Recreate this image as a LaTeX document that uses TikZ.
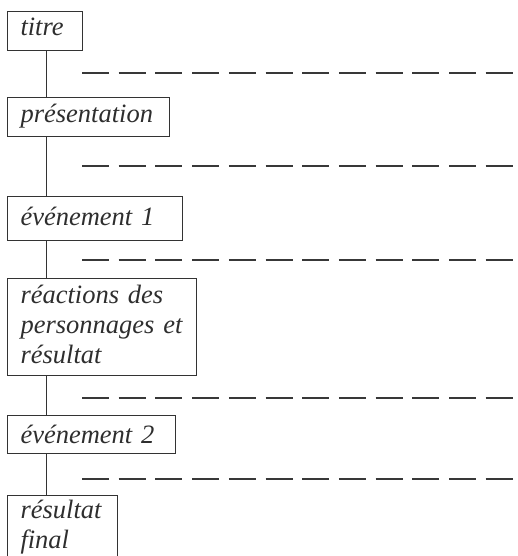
\documentclass[tikz,border=0pt]{standalone}
\usepackage{fontspec}
\setmainfont{Liberation Serif}[ItalicFont={Liberation Serif Italic}]
\begin{document}
\begin{tikzpicture}[x=1pt,y=-1pt]
\tikzset{
  box/.style={draw=black!80, line width=1pt, anchor=north west, inner xsep=13pt, inner ysep=0pt,
    align=left, font=\fontsize{26.5}{30}\selectfont\itshape, text=black!82},
  conn/.style={draw=black!80, line width=1pt},
  sepline/.style={draw=black!78, line width=2.6pt, dash pattern=on 27pt off 9.7pt},
}
\useasboundingbox (0,0) rectangle (517,556);

\node[box, text width=49pt,  text height=24pt, text depth=15pt] (b1) at (7,11)  {titre};
\node[box, text width=136pt, text height=25pt, text depth=14pt] (b2) at (7,97)  {présentation};
\node[box, text width=149pt, text height=29pt, text depth=15pt] (b3) at (7,196) {événement 1};
\node[box, text width=163pt, text height=25pt, text depth=72pt] (b4) at (7,278) {réactions des\\personnages et\\résultat};
\node[box, text width=142pt, text height=28pt, text depth=10pt] (b5) at (7,415) {événement 2};
\node[box, text width=84pt,  text height=23pt, text depth=82pt] (b6) at (7,495) {résultat\\final};

\draw[conn] ([xshift=39.5pt]b1.south west) -- ([xshift=39.5pt]b2.north west);
\draw[conn] ([xshift=39.5pt]b2.south west) -- ([xshift=39.5pt]b3.north west);
\draw[conn] ([xshift=39.5pt]b3.south west) -- ([xshift=39.5pt]b4.north west);
\draw[conn] ([xshift=39.5pt]b4.south west) -- ([xshift=39.5pt]b5.north west);
\draw[conn] ([xshift=39.5pt]b5.south west) -- ([xshift=39.5pt]b6.north west);

\coordinate (d1s) at (82,73);  \coordinate (d1e) at (513,73);
\coordinate (d2s) at (82,166); \coordinate (d2e) at (513,166);
\coordinate (d3s) at (82,260); \coordinate (d3e) at (513,260);
\coordinate (d4s) at (82,398); \coordinate (d4e) at (513,398);
\coordinate (d5s) at (82,479); \coordinate (d5e) at (513,479);
\draw[sepline] (d1s) -- (d1e);
\draw[sepline] (d2s) -- (d2e);
\draw[sepline] (d3s) -- (d3e);
\draw[sepline] (d4s) -- (d4e);
\draw[sepline] (d5s) -- (d5e);
\end{tikzpicture}
\end{document}
